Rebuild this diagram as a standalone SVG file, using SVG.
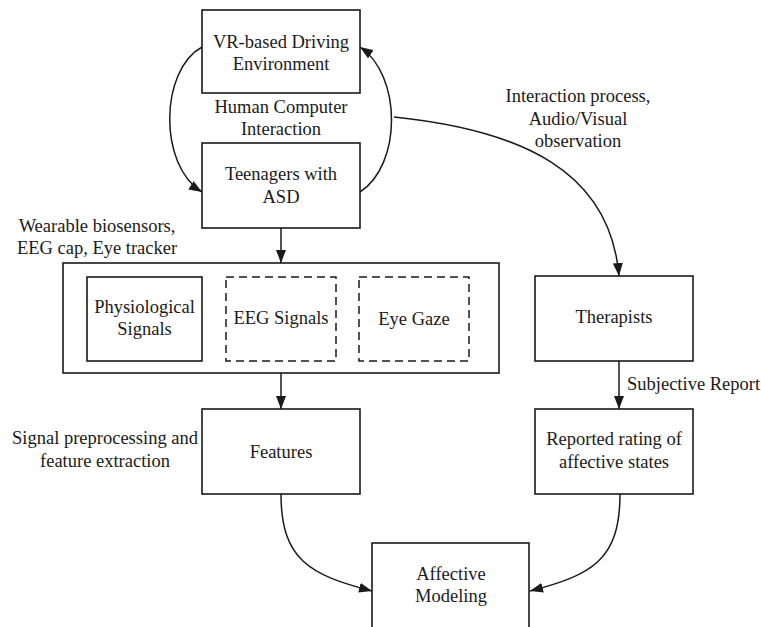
<svg xmlns="http://www.w3.org/2000/svg" width="761" height="627" viewBox="0 0 761 627">
  <defs>
    <style>
      .box { fill: #fff; stroke: #1a1a1a; stroke-width: 1.6; }
      .dash { fill: #fff; stroke: #1a1a1a; stroke-width: 1.5; stroke-dasharray: 8 5; }
      .edge { fill: none; stroke: #1a1a1a; stroke-width: 1.5; marker-end: url(#arrow); }
      .t { font-family: 'Liberation Serif', serif !important; font-size: 18.5px; fill: #1a1a1a; text-anchor: middle; }
      .ts { text-anchor: start; }
    </style>
    <marker id="arrow" markerUnits="userSpaceOnUse" markerWidth="14" markerHeight="10" refX="13" refY="5" orient="auto">
      <path d="M0,0 L13,5 L0,10 Z" fill="#1a1a1a"/>
    </marker>
  </defs>
  <rect width="761" height="627" fill="#fff"/>

  <!-- connectors -->
  <g id="connectors">
    <path class="edge" d="M202,47 C160,70 158,165 202,192"/>
    <path class="edge" d="M360,192 C402,165 402,75 360,47"/>
    <path class="edge" d="M394,117 C520,130 610,170 619,276"/>
    <path class="edge" d="M281,228 L281,263"/>
    <path class="edge" d="M281,373 L281,409"/>
    <path class="edge" d="M619,361 L619,409"/>
    <path class="edge" d="M281,494 C281,560 310,575 372,591"/>
    <path class="edge" d="M620,494 C620,560 592,575 530,591"/>
  </g>

  <!-- edge labels -->
  <g id="labels">
    <text class="t" font-family="Liberation Serif" x="281" y="113">Human Computer</text>
    <text class="t" font-family="Liberation Serif" x="281" y="135">Interaction</text>
    <text class="t" font-family="Liberation Serif" x="97" y="232">Wearable biosensors,</text>
    <text class="t" font-family="Liberation Serif" x="97" y="254">EEG cap, Eye tracker</text>
    <text class="t" font-family="Liberation Serif" x="578" y="102">Interaction process,</text>
    <text class="t" font-family="Liberation Serif" x="578" y="125">Audio/Visual</text>
    <text class="t" font-family="Liberation Serif" x="578" y="147">observation</text>
    <text class="t ts" font-family="Liberation Serif" x="627" y="390">Subjective Report</text>
    <text class="t" font-family="Liberation Serif" x="105" y="444">Signal preprocessing and</text>
    <text class="t" font-family="Liberation Serif" x="105" y="467">feature extraction</text>
  </g>

  <g id="vr-env">
    <rect class="box" x="202" y="10" width="158" height="83"/>
    <text class="t" font-family="Liberation Serif" x="281" y="48">VR-based Driving</text>
    <text class="t" font-family="Liberation Serif" x="281" y="70">Environment</text>
  </g>

  <g id="teenagers">
    <rect class="box" x="202" y="143" width="158" height="85"/>
    <text class="t" font-family="Liberation Serif" x="281" y="180">Teenagers with</text>
    <text class="t" font-family="Liberation Serif" x="281" y="203">ASD</text>
  </g>

  <g id="signals">
    <rect class="box" x="63" y="263" width="436" height="110"/>
    <g id="physiological">
      <rect class="box" x="87" y="277" width="115" height="84"/>
      <text class="t" font-family="Liberation Serif" x="144.5" y="313">Physiological</text>
      <text class="t" font-family="Liberation Serif" x="144.5" y="335">Signals</text>
    </g>
    <g id="eeg">
      <rect class="dash" x="226" y="277" width="110" height="84"/>
      <text class="t" font-family="Liberation Serif" x="281" y="324">EEG Signals</text>
    </g>
    <g id="eye-gaze">
      <rect class="dash" x="359" y="277" width="110" height="84"/>
      <text class="t" font-family="Liberation Serif" x="414" y="325">Eye Gaze</text>
    </g>
  </g>

  <g id="therapists">
    <rect class="box" x="535" y="276" width="158" height="85"/>
    <text class="t" font-family="Liberation Serif" x="614" y="323">Therapists</text>
  </g>

  <g id="features">
    <rect class="box" x="202" y="409" width="158" height="85"/>
    <text class="t" font-family="Liberation Serif" x="281" y="458">Features</text>
  </g>

  <g id="reported">
    <rect class="box" x="535" y="409" width="158" height="85"/>
    <text class="t" font-family="Liberation Serif" x="614" y="445">Reported rating of</text>
    <text class="t" font-family="Liberation Serif" x="614" y="468">affective states</text>
  </g>

  <g id="affective">
    <rect class="box" x="372" y="543" width="157" height="85"/>
    <text class="t" font-family="Liberation Serif" x="451" y="580">Affective</text>
    <text class="t" font-family="Liberation Serif" x="451" y="602">Modeling</text>
  </g>
</svg>
